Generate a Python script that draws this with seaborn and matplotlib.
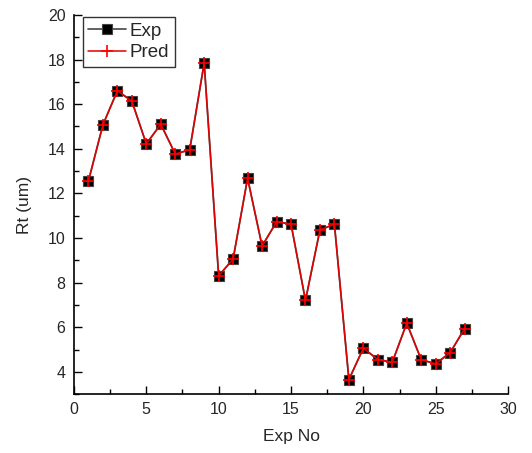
import matplotlib
matplotlib.use("Agg")
import matplotlib.pyplot as plt
from matplotlib.ticker import MultipleLocator
import seaborn as sns
import pandas as pd

exp_no = list(range(1, 28))
rt_exp = [12.55, 15.07, 16.6, 16.14, 14.22, 15.1, 13.77, 13.95, 17.85,
          8.3, 9.06, 12.68, 9.64, 10.72, 10.63, 7.2, 10.36, 10.62,
          3.65, 5.06, 4.55, 4.43, 6.18, 4.54, 4.36, 4.86, 5.94]
rt_pred = [12.55, 15.07, 16.6, 16.14, 14.22, 15.1, 13.77, 13.95, 17.85,
           8.3, 9.06, 12.68, 9.64, 10.72, 10.63, 7.2, 10.36, 10.62,
           3.65, 5.06, 4.55, 4.43, 6.18, 4.54, 4.36, 4.86, 5.94]

df = pd.DataFrame({"Exp No": exp_no, "Exp": rt_exp, "Pred": rt_pred})

sns.set_style("ticks")
plt.rcParams["font.family"] = ["Liberation Sans", "DejaVu Sans"]

fig = plt.figure(figsize=(5.32, 4.53), dpi=100)
ax = fig.add_axes([0.139, 0.130, 0.816, 0.837])

sns.lineplot(data=df, x="Exp No", y="Exp", ax=ax, color="#555555", lw=1.3,
             marker="s", markersize=7, markerfacecolor="black",
             markeredgecolor="#444444", markeredgewidth=0.8, label="Exp")
sns.lineplot(data=df, x="Exp No", y="Pred", ax=ax, color="#e00000", lw=1.1,
             marker="+", markersize=9, markeredgecolor="#ff0000",
             markeredgewidth=1.2, label="Pred")

ax.set_xlim(0, 30)
ax.set_ylim(3, 20)
ax.xaxis.set_major_locator(MultipleLocator(5))
ax.xaxis.set_minor_locator(MultipleLocator(2.5))
ax.yaxis.set_major_locator(MultipleLocator(2))
ax.yaxis.set_minor_locator(MultipleLocator(1))
ax.tick_params(which="major", direction="in", length=6, width=1,
               labelsize=11.5, color="black", pad=6)
ax.tick_params(which="minor", direction="in", length=3.5, width=1,
               color="black")
for side in ("top", "right"):
    ax.spines[side].set_visible(False)
for side in ("left", "bottom"):
    ax.spines[side].set_linewidth(1.2)
    ax.spines[side].set_color("black")

ax.set_xlabel("Exp No", fontsize=12.5, labelpad=8)
ax.set_ylabel("Rt (um)", fontsize=12.5, labelpad=11)

leg = ax.legend(loc="upper left", bbox_to_anchor=(0.02, 0.995), fontsize=13.5,
                frameon=True, fancybox=False, edgecolor="black",
                borderpad=0.3, labelspacing=0.25, handlelength=2.0,
                handletextpad=0.2, borderaxespad=0.0)
leg.get_frame().set_linewidth(1.0)

fig.savefig("out.png", dpi=100)
